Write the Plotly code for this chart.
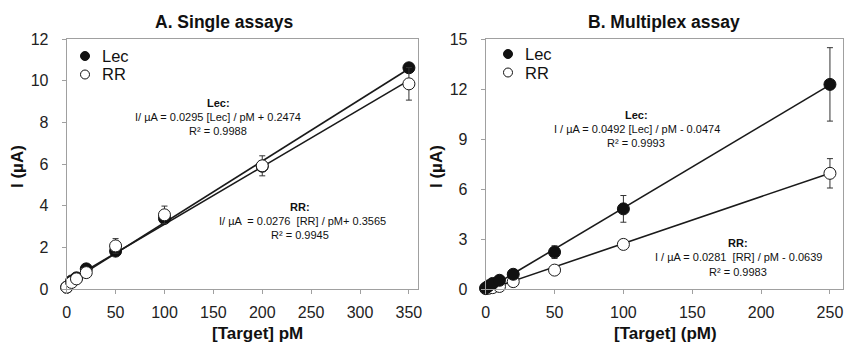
import plotly.graph_objects as go

# ---------------- data ----------------
# Panel A: single assays
a_x_lec = [0, 5, 10, 20, 50, 100, 200, 350]
a_y_lec = [0.10, 0.40, 0.55, 0.98, 1.83, 3.40, 5.90, 10.62]
a_e_lec = [0.05, 0.05, 0.05, 0.10, 0.15, 0.15, 0.25, 0.20]
a_x_rr = [0, 5, 10, 20, 50, 100, 200, 350]
a_y_rr = [0.10, 0.33, 0.50, 0.80, 2.08, 3.57, 5.92, 9.85]
a_e_rr = [0.05, 0.05, 0.08, 0.10, 0.35, 0.42, 0.48, 0.78]
a_fit_lec = [0.0295, 0.2474]   # slope, intercept
a_fit_rr = [0.0276, 0.3565]
a_fit_x = [0, 350]

# Panel B: multiplex assay
b_x_lec = [0, 2, 5, 10, 20, 50, 100, 250]
b_y_lec = [0.08, 0.20, 0.35, 0.54, 0.90, 2.23, 4.82, 12.28]
b_e_lec = [0.05, 0.05, 0.08, 0.10, 0.12, 0.38, 0.80, 2.20]
b_x_rr = [0, 2, 5, 10, 20, 50, 100, 250]
b_y_rr = [0.04, 0.06, 0.10, 0.17, 0.46, 1.15, 2.69, 6.95]
b_e_rr = [0.02, 0.02, 0.03, 0.05, 0.06, 0.10, 0.15, 0.88]
b_fit_lec = [0.0492, -0.0474]
b_fit_rr = [0.0281, -0.0639]
b_fit_x = [0, 250]

a_yticks = [0, 2, 4, 6, 8, 10, 12]
a_xticks = [0, 50, 100, 150, 200, 250, 300, 350]
b_yticks = [0, 3, 6, 9, 12, 15]
b_xticks = [0, 50, 100, 150, 200, 250]

# ---------------- figure ----------------
W, H = 846, 345
FONT = "Liberation Sans, Arial, sans-serif"
INK = "#1a1a1a"
fig = go.Figure()


def add_panel(fig, xa, ya, xl, yl, el, xr, yr, er, fl, fr, fx, rr_on_top):
    for coef in (fl, fr):
        fig.add_trace(go.Scatter(
            x=fx, y=[coef[0] * v + coef[1] for v in fx], mode="lines",
            line=dict(color=INK, width=1.6), xaxis=xa, yaxis=ya,
            showlegend=False, hoverinfo="skip"))
    rr = go.Scatter(
        x=xr, y=yr, mode="markers", name="RR", cliponaxis=False,
        error_y=dict(type="data", array=er, color="#333", thickness=1, width=3),
        marker=dict(symbol="circle", size=12, color="white",
                    line=dict(color=INK, width=1)),
        xaxis=xa, yaxis=ya, showlegend=False)
    lec = go.Scatter(
        x=xl, y=yl, mode="markers", name="Lec", cliponaxis=False,
        error_y=dict(type="data", array=el, color="#333", thickness=1, width=3),
        marker=dict(symbol="circle", size=12, color="#111",
                    line=dict(color="#111", width=1)),
        xaxis=xa, yaxis=ya, showlegend=False)
    order = [lec, rr] if rr_on_top else [rr, lec]
    for t in order:
        fig.add_trace(t)


add_panel(fig, "x", "y", a_x_lec, a_y_lec, a_e_lec, a_x_rr, a_y_rr, a_e_rr,
          a_fit_lec, a_fit_rr, a_fit_x, True)
add_panel(fig, "x2", "y2", b_x_lec, b_y_lec, b_e_lec, b_x_rr, b_y_rr, b_e_rr,
          b_fit_lec, b_fit_rr, b_fit_x, False)


def px_x(p):
    return p / W


def px_y(p):
    return 1 - p / H


ax_common = dict(showline=True, mirror=True, linecolor="#a0a0a0", linewidth=1,
                 ticks="outside", ticklen=4, tickcolor="#a0a0a0",
                 showgrid=False, zeroline=False, automargin=False,
                 tickfont=dict(family=FONT, size=16, color="#222"))

ydom = [px_y(289.3), px_y(39)]
fig.update_layout(
    template="none",
    width=W, height=H,
    margin=dict(l=0, r=0, t=0, b=0, pad=0),
    paper_bgcolor="white", plot_bgcolor="white",
    showlegend=False,
    xaxis=dict(domain=[px_x(66.7), px_x(418.3)], range=[0, 359.6],
               tickvals=a_xticks, anchor="y", ticklabelstandoff=4, **ax_common),
    yaxis=dict(domain=ydom, range=[0, 12], tickvals=a_yticks, anchor="x",
               ticklabelstandoff=10, **ax_common),
    xaxis2=dict(domain=[px_x(485.7), px_x(843.3)], range=[0, 259.7],
                tickvals=b_xticks, anchor="y2", ticklabelstandoff=4, **ax_common),
    yaxis2=dict(domain=ydom, range=[0, 15], tickvals=b_yticks, anchor="x2",
                ticklabelstandoff=10, **ax_common),
)

ann = []


def text(x, y, s, size=11, bold=False, angle=0, xanchor="center"):
    ann.append(dict(x=px_x(x), y=px_y(y), xref="paper", yref="paper",
                    text=f"<b>{s}</b>" if bold else s, showarrow=False,
                    xanchor=xanchor, yanchor="middle", textangle=angle,
                    font=dict(family=FONT, size=size, color="#111")))


# titles
text(224, 22, "A. Single assays", size=17.5, bold=True)
text(664, 22, "B. Multiplex assay", size=17.5, bold=True)
# axis titles
text(257, 333, "[Target] pM", size=17, bold=True)
text(665, 333, "[Target] (pM)", size=17, bold=True)
text(17, 167, "I (µA)", size=17, bold=True, angle=-90)
text(436, 167, "I (µA)", size=17, bold=True, angle=-90)

# equations panel A
text(218, 103, "Lec:", size=11, bold=True)
text(218, 117, "I/ µA = 0.0295 [Lec] / pM + 0.2474", size=11)
text(218, 131, "R² = 0.9988", size=11)
text(300, 207, "RR:", size=11, bold=True)
text(302, 221, "I/ µA  = 0.0276  [RR] / pM+ 0.3565", size=11)
text(300, 235, "R² = 0.9945", size=11)
# equations panel B
text(636, 115, "Lec:", size=11, bold=True)
text(637, 129, "I / µA = 0.0492 [Lec] / pM - 0.0474", size=11)
text(636, 143, "R² = 0.9993", size=11)
text(738, 243, "RR:", size=11, bold=True)
text(738, 257, "I / µA = 0.0281  [RR] / pM - 0.0639", size=11)
text(738, 272, "R² = 0.9983", size=11)

# legends (manual)
shapes = []


def legend_item(mx, my, label, filled):
    shapes.append(dict(type="circle", xref="paper", yref="paper",
                       xsizemode="pixel", ysizemode="pixel",
                       xanchor=px_x(mx), yanchor=px_y(my),
                       x0=-4.5, x1=4.5, y0=-4.5, y1=4.5,
                       fillcolor="#111" if filled else "white",
                       line=dict(color="#111", width=1)))
    text(mx + 15, my, label, size=16.5, xanchor="left")


legend_item(85, 56, "Lec", True)
legend_item(85, 74.5, "RR", False)
legend_item(508, 54, "Lec", True)
legend_item(508, 72.5, "RR", False)

fig.update_layout(annotations=ann, shapes=shapes)
fig.write_html("out.html", config={"displayModeBar": False},
               post_script="document.body.style.margin='0px';")
